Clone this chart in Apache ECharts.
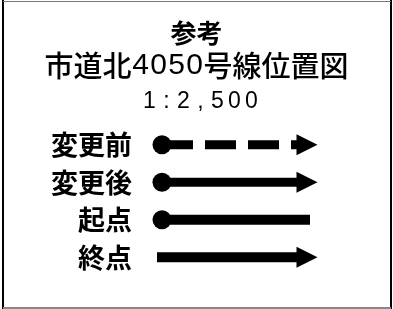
<!DOCTYPE html>
<html>
<head>
<meta charset="utf-8">
<script src="https://cdn.jsdelivr.net/npm/echarts@6/dist/echarts.min.js"></script>
<style>
html,body{margin:0;padding:0;background:#fff;}
#c{width:393px;height:309px;}
</style>
</head>
<body>
<div id="c"></div>
<script>
// ---- data ----
const heading = '参考';
const titleCJK1 = '市道北';
const titleNum = '4050';
const titleCJK2 = '号線位置図';
const scaleText = '1:2,500';
const rowLabels = ['変更前', '変更後', '起点', '終点'];
const lineStart = [162, 162, 162, 157];
const lineEnd = [307, 307, 310, 307];
const startMarker = ['circle', 'circle', 'circle', 'none'];
const endMarker = ['arrow', 'arrow', 'none', 'arrow'];
const lineKind = ['dashed', 'solid', 'solid', 'solid'];

// ---- chart ----
const chart = echarts.init(document.getElementById('c'), null, {renderer: 'canvas'});
const CJK = '"Noto Sans CJK JP", "Noto Sans CJK SC", sans-serif';
const LAT = '"Liberation Sans", Arial, sans-serif';
const arrowPath = 'path://M0,0 L10,5 L0,10 Z';

const series = rowLabels.map((lab, i) => {
  const p0 = {value: [lineStart[i], lab]};
  const p1 = {value: [lineEnd[i], lab]};
  if (startMarker[i] === 'circle') { p0.symbol = 'circle'; p0.symbolSize = 19; }
  else { p0.symbol = 'none'; }
  if (endMarker[i] === 'arrow') { p1.symbol = arrowPath; p1.symbolSize = [21, 21]; }
  else { p1.symbol = 'none'; }
  return {
    type: 'line',
    data: [p0, p1],
    showSymbol: true,
    silent: true,
    z: 2,
    itemStyle: {color: '#000', opacity: 1},
    lineStyle: {
      color: '#000',
      width: i < 2 ? 9 : 10,
      type: lineKind[i] === 'dashed' ? [31, 12] : 'solid',
      cap: 'butt'
    }
  };
});

const digitRich = titleNum.split('').map(d => '{d|' + d + '}').join('');
const scaleRich = scaleText.split('').map(ch => '{s|' + ch + '}').join('');

chart.setOption({
  animation: false,
  backgroundColor: '#fff',
  title: [
    {
      text: heading, left: 'center', top: 17, padding: 0,
      textStyle: {fontSize: 26, fontWeight: 'bold', fontFamily: CJK, color: '#000', lineHeight: 32}
    },
    {
      text: '{c|' + titleCJK1 + '}' + digitRich + '{c|' + titleCJK2 + '}',
      left: 'center', top: 49, padding: 0,
      textStyle: {
        lineHeight: 34,
        fontWeight: 'normal',
        rich: {
          c: {fontSize: 29, fontFamily: CJK, fontWeight: 500, color: '#000', lineHeight: 34},
          d: {fontSize: 30, fontFamily: LAT, fontWeight: 'normal', color: '#000', width: 18, align: 'center', lineHeight: 34}
        }
      }
    },
    {
      text: scaleRich,
      left: 141, top: 90, padding: 0,
      textStyle: {
        lineHeight: 24,
        fontWeight: 'normal',
        rich: {
          s: {fontSize: 23, fontFamily: LAT, fontWeight: 'normal', color: '#000', width: 17, align: 'center', lineHeight: 24}
        }
      }
    }
  ],
  grid: {left: 140, right: 0, top: 126, bottom: 33},
  xAxis: {type: 'value', min: 140, max: 393, show: false},
  yAxis: {
    type: 'category',
    data: rowLabels,
    inverse: true,
    axisLine: {show: false},
    axisTick: {show: false},
    splitLine: {show: false},
    axisLabel: {
      margin: 8,
      color: '#000',
      fontSize: 27,
      fontWeight: 'bold',
      fontFamily: CJK
    }
  },
  series: series,
  graphic: [
    {type: 'rect', shape: {x: 2, y: 0, width: 2, height: 309}, style: {fill: '#000'}},
    {type: 'rect', shape: {x: 390, y: 0, width: 2, height: 309}, style: {fill: '#000'}},
    {type: 'rect', shape: {x: 3, y: 1, width: 388, height: 1}, style: {fill: '#777'}},
    {type: 'rect', shape: {x: 3, y: 307, width: 388, height: 2}, style: {fill: '#888'}}
  ]
});
</script>
</body>
</html>
